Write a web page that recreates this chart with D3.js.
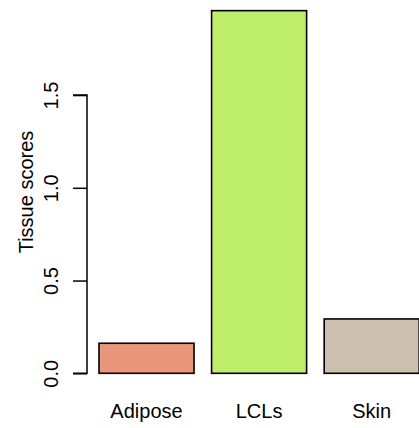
<!DOCTYPE html>
<html>
<head>
<meta charset="utf-8">
<script src="https://cdn.jsdelivr.net/npm/d3@7"></script>
<style>
  html, body { margin: 0; padding: 0; background: #fff; }
  svg { display: block; font-family: "Liberation Sans", Arial, Helvetica, sans-serif; }
</style>
</head>
<body>
<svg id="chart" width="419" height="428"></svg>
<script>
const categories = ["Adipose", "LCLs", "Skin"];
const values = [0.162, 1.955, 0.293];
const colors = ["#E9967A", "#BFEE6B", "#CDBFB0"];
const yTicks = [0, 0.5, 1.0, 1.5];
const yTickLabels = ["0.0", "0.5", "1.0", "1.5"];
const yLabel = "Tissue scores";

const svg = d3.select("#chart");
const y = d3.scaleLinear().domain([0, 2]).range([373.3, 2.3]);
const x = d3.scaleBand().domain(categories).range([99, 419.2]).paddingInner(0.156).paddingOuter(0);

// bars
svg.append("g").selectAll("rect").data(categories).join("rect")
  .attr("x", d => x(d))
  .attr("y", (d, i) => y(values[i]))
  .attr("width", x.bandwidth())
  .attr("height", (d, i) => y(0) - y(values[i]))
  .attr("fill", (d, i) => colors[i])
  .attr("stroke", "#000")
  .attr("stroke-width", 1.6);

// y axis
const axisX = 87;
const yAxis = d3.axisLeft(y).tickValues(yTicks).tickSize(14).tickFormat((d, i) => yTickLabels[i]);
const ga = svg.append("g").attr("transform", `translate(${axisX},0)`).call(yAxis);
ga.select(".domain").attr("d", `M-14,${y(0)}H0V${y(1.5)}H-14`).attr("stroke-width", 1.5).attr("fill", "none").attr("stroke", "#000");
ga.selectAll(".tick line").attr("stroke-width", 1.5).attr("stroke", "#000");
ga.selectAll(".tick text")
  .attr("x", null).attr("dy", null)
  .attr("transform", `translate(-29,0) rotate(-90)`)
  .attr("text-anchor", "middle")
  .attr("font-size", 20)
  .attr("font-family", "Liberation Sans, Arial, sans-serif")
  .attr("fill", "#000");

// x labels
svg.append("g").selectAll("text").data(categories).join("text")
  .attr("x", d => x(d) + x.bandwidth() / 2)
  .attr("y", 418)
  .attr("text-anchor", "middle")
  .attr("font-size", 20)
  .attr("fill", "#000")
  .text(d => d);

// y label
svg.append("text")
  .attr("transform", `translate(33,192) rotate(-90)`)
  .attr("text-anchor", "middle")
  .attr("font-size", 20)
  .attr("fill", "#000")
  .text(yLabel);
</script>
</body>
</html>
